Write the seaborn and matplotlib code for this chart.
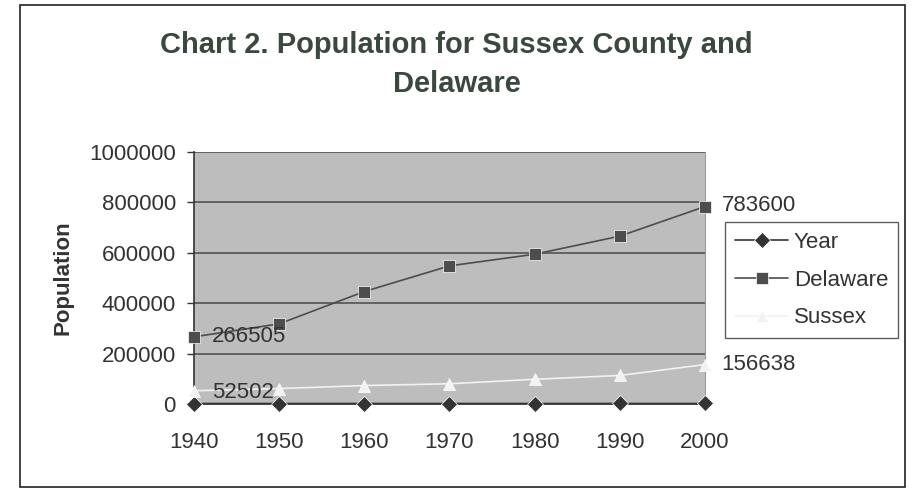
import pandas as pd
import numpy as np
import seaborn as sns
import matplotlib.pyplot as plt
from matplotlib.patches import Rectangle
from matplotlib.ticker import StrMethodFormatter

# data
years = [1940, 1950, 1960, 1970, 1980, 1990, 2000]
delaware = [266505, 318085, 446292, 548104, 594338, 666168, 783600]
sussex = [52502, 61336, 73195, 80356, 98004, 113229, 156638]
series_names = ["Year", "Delaware", "Sussex"]

dados = pd.DataFrame({
    "Ano": years * 3,
    "Valor": years + delaware + sussex,
    "Serie": [n for n in series_names for _ in years],
})

sns.set_style("white")
plt.rcParams["font.family"] = ["Liberation Sans", "DejaVu Sans"]

fig = plt.figure(figsize=(9.13, 4.9), dpi=100, facecolor="white")
ax = fig.add_axes([194 / 913, 1 - 404 / 490, 511 / 913, 252 / 490])
ax.set_facecolor("#bdbdbd")

# moldura externa
fig.patches.append(Rectangle((20 / 913, 3 / 490), 885 / 913, 482 / 490,
                             transform=fig.transFigure, fill=False,
                             edgecolor="#222222", linewidth=1.2))

cores = {"Year": "#333333", "Delaware": "#4d4d4d", "Sussex": "#f2f2f2"}
marcadores = {"Year": "D", "Delaware": "s", "Sussex": "^"}

sns.lineplot(data=dados, x="Ano", y="Valor", hue="Serie", style="Serie",
             hue_order=series_names, style_order=series_names,
             palette=cores, markers=marcadores, dashes=False,
             markersize=8, markeredgewidth=0.5, linewidth=1.2,
             ax=ax, zorder=3, clip_on=False)

ax.set_xlim(1940, 2000)
ax.set_ylim(0, 1000000)
ax.set_xticks(years)
ax.set_yticks(range(0, 1000001, 200000))
ax.yaxis.set_major_formatter(StrMethodFormatter("{x:.0f}"))
ax.yaxis.grid(True, color="#4a4a4a", linewidth=1.1)
ax.set_axisbelow(True)
for s in ["left", "bottom"]:
    ax.spines[s].set_color("#333333")
    ax.spines[s].set_linewidth(1.2)
ax.spines["top"].set_visible(False)
ax.spines["right"].set_color("#9a9a9a")
ax.tick_params(axis="y", direction="out", length=5, width=1, color="#333333",
               labelsize=16, labelcolor="#333333", pad=8, left=True)
ax.tick_params(axis="x", length=0, labelsize=16, labelcolor="#333333", pad=20)

ax.set_xlabel("")
ax.set_ylabel("Population", fontsize=16, fontweight="bold", color="#333333", labelpad=11)

fig.text(0.5, 1 - 45 / 490, "Chart 2. Population for Sussex County and",
         ha="center", va="center", fontsize=21, fontweight="bold", color="#3b483e")
fig.text(0.5, 1 - 84 / 490, "Delaware",
         ha="center", va="center", fontsize=21, fontweight="bold", color="#3b483e")

# rótulos de dados
rot = dict(fontsize=16, color="#333333", va="center")
ax.annotate(str(delaware[0]), (years[0], delaware[0]), xytext=(13, 0),
            textcoords="offset points", ha="left", **rot)
ax.annotate(str(sussex[0]), (years[0], sussex[0]), xytext=(13, -1),
            textcoords="offset points", ha="left", **rot)
ax.annotate(str(delaware[-1]), (years[-1], delaware[-1]), xytext=(12, 1),
            textcoords="offset points", ha="left", annotation_clip=False, **rot)
ax.annotate(str(sussex[-1]), (years[-1], sussex[-1]), xytext=(12, 0),
            textcoords="offset points", ha="left", annotation_clip=False, **rot)

handles, labels = ax.get_legend_handles_labels()
leg = ax.legend(handles, labels, loc="upper left",
                bbox_to_anchor=(725 / 913, 1 - 222 / 490), bbox_transform=fig.transFigure,
                borderaxespad=0, fontsize=16, frameon=True, fancybox=False,
                handlelength=2.4, labelspacing=0.75, borderpad=0.45, handletextpad=0.25)
leg.get_frame().set_edgecolor("#333333")
leg.get_frame().set_linewidth(1.0)
for t in leg.get_texts():
    t.set_color("#333333")

plt.savefig("out.png", dpi=100, facecolor="white")
